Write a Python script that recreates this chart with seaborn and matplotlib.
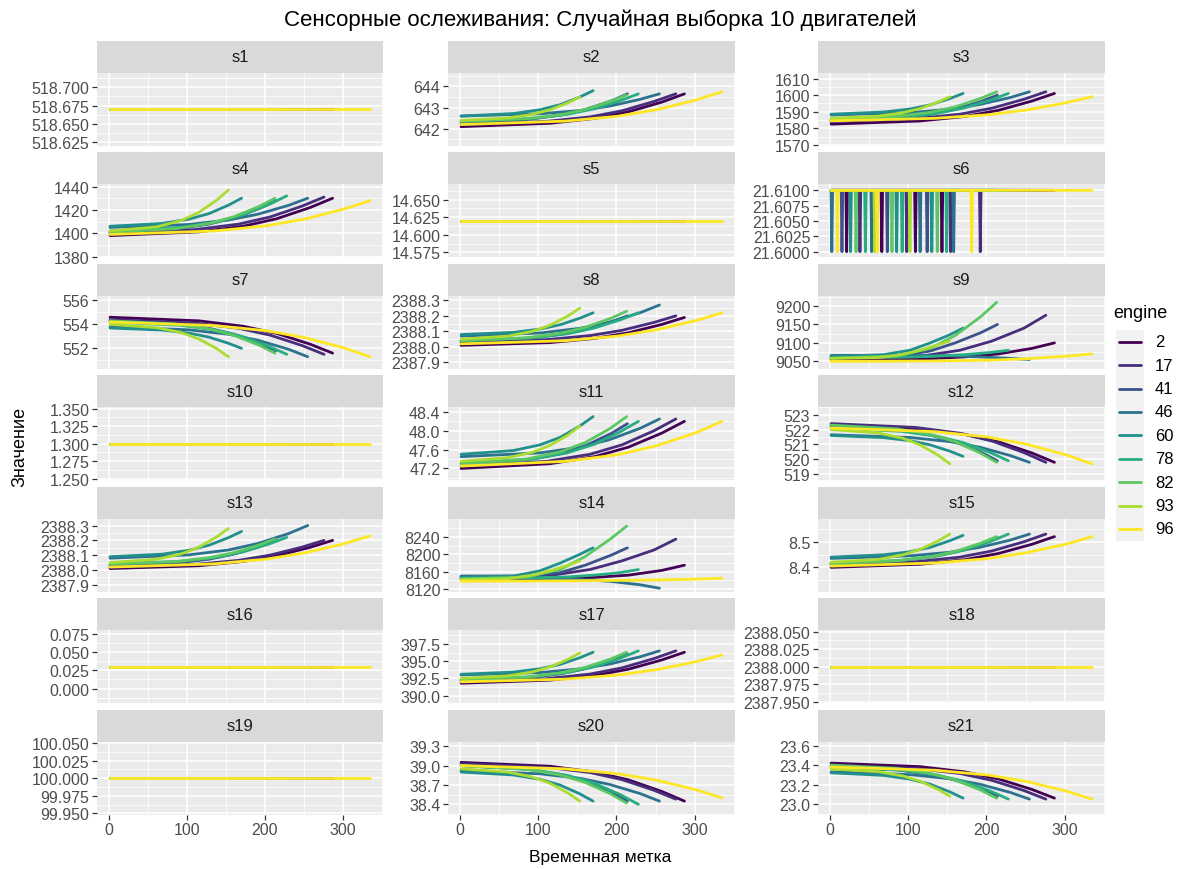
import matplotlib
matplotlib.use("Agg")
import matplotlib.pyplot as plt
import seaborn as sns
import pandas as pd
from matplotlib.patches import Rectangle
from matplotlib.lines import Line2D

# ---------------- data ----------------
engines = [2, 17, 41, 46, 60, 78, 82, 93, 96]
engine_colors = ["#440154", "#472D7B", "#3B528B", "#2C728E", "#21908C",
                 "#27AD81", "#5DC863", "#AADC32", "#FDE725"]

# time stamps (cycles) at which values were read for each engine; last = lifetime
cycles = {
    2: [1, 115, 172, 215, 258, 287],
    17: [1, 110, 166, 207, 248, 276],
    41: [1, 86, 128, 160, 193, 214],
    46: [1, 102, 153, 191, 230, 255],
    60: [1, 68, 102, 128, 153, 170],
    78: [1, 91, 137, 171, 205, 228],
    82: [1, 85, 128, 160, 192, 213],
    93: [1, 61, 92, 115, 138, 153],
    96: [1, 134, 201, 251, 302, 335],
}

# constant sensors
s1_level = 518.67
s5_level = 14.62
s10_level = 1.30
s16_level = 0.03
s18_level = 2388.00
s19_level = 100.00

# sensor s6: 21.61 with single-cycle drops to 21.60 at these cycles
s6_high = 21.61
s6_low = 21.60
s6_drops = {
    2: [21, 66, 109, 143],
    17: [38, 98, 154, 192],
    41: [15, 73, 124],
    46: [2, 53, 115, 158],
    60: [26, 85, 130],
    78: [45, 92, 149],
    82: [33, 79, 137],
    93: [57, 102],
    96: [9, 60, 181],
}

s2 = {
    2: [642.10, 642.26, 642.49, 642.80, 643.26, 643.65],
    17: [642.20, 642.35, 642.56, 642.85, 643.29, 643.65],
    41: [642.30, 642.44, 642.64, 642.91, 643.31, 643.65],
    46: [642.60, 642.71, 642.86, 643.07, 643.39, 643.65],
    60: [642.60, 642.72, 642.90, 643.14, 643.50, 643.80],
    78: [642.35, 642.48, 642.68, 642.94, 643.33, 643.65],
    82: [642.35, 642.48, 642.66, 642.91, 643.29, 643.60],
    93: [642.40, 642.51, 642.68, 642.90, 643.23, 643.50],
    96: [642.20, 642.36, 642.59, 642.90, 643.36, 643.75],
}
s3 = {
    2: [1582.5, 1584.4, 1587.1, 1590.8, 1596.4, 1601.0],
    17: [1584.0, 1585.8, 1588.5, 1592.1, 1597.5, 1602.0],
    41: [1584.5, 1586.1, 1588.4, 1591.5, 1596.1, 1600.0],
    46: [1588.0, 1589.4, 1591.5, 1594.3, 1598.5, 1602.0],
    60: [1588.5, 1589.8, 1591.6, 1594.1, 1597.9, 1601.0],
    78: [1585.0, 1586.6, 1589.0, 1592.2, 1597.0, 1601.0],
    82: [1585.5, 1587.2, 1589.6, 1592.9, 1597.9, 1602.0],
    93: [1586.0, 1587.3, 1589.3, 1591.9, 1595.8, 1599.0],
    96: [1584.5, 1586.0, 1588.1, 1591.0, 1595.4, 1599.0],
}
s4 = {
    2: [1398.0, 1401.2, 1406.0, 1412.4, 1422.0, 1430.0],
    17: [1400.0, 1403.1, 1407.8, 1414.0, 1423.3, 1431.0],
    41: [1401.0, 1403.7, 1407.8, 1413.2, 1421.3, 1428.0],
    46: [1405.0, 1407.5, 1411.3, 1416.3, 1423.8, 1430.0],
    60: [1406.0, 1408.4, 1412.0, 1416.8, 1424.0, 1430.0],
    78: [1402.0, 1405.0, 1409.5, 1415.5, 1424.5, 1432.0],
    82: [1401.0, 1403.9, 1408.3, 1414.1, 1422.8, 1430.0],
    93: [1402.0, 1405.5, 1410.8, 1417.8, 1428.3, 1437.0],
    96: [1399.0, 1401.9, 1406.3, 1412.1, 1420.8, 1428.0],
}
s7 = {
    2: [554.60, 554.30, 553.85, 553.25, 552.35, 551.60],
    17: [554.40, 554.11, 553.68, 553.10, 552.23, 551.50],
    41: [554.30, 554.05, 553.68, 553.18, 552.43, 551.80],
    46: [553.80, 553.55, 553.18, 552.68, 551.93, 551.30],
    60: [553.70, 553.53, 553.28, 552.94, 552.43, 552.00],
    78: [554.20, 553.93, 553.53, 552.99, 552.18, 551.50],
    82: [554.30, 554.03, 553.63, 553.09, 552.28, 551.60],
    93: [554.00, 553.73, 553.33, 552.79, 551.98, 551.30],
    96: [554.20, 553.91, 553.48, 552.90, 552.03, 551.30],
}
s8 = {
    2: [2388.010, 2388.028, 2388.055, 2388.091, 2388.145, 2388.190],
    17: [2388.030, 2388.047, 2388.073, 2388.107, 2388.158, 2388.200],
    41: [2388.040, 2388.056, 2388.080, 2388.112, 2388.160, 2388.200],
    46: [2388.070, 2388.090, 2388.120, 2388.160, 2388.220, 2388.270],
    60: [2388.080, 2388.094, 2388.115, 2388.143, 2388.185, 2388.220],
    78: [2388.040, 2388.058, 2388.085, 2388.121, 2388.175, 2388.220],
    82: [2388.040, 2388.059, 2388.088, 2388.126, 2388.183, 2388.230],
    93: [2388.050, 2388.070, 2388.100, 2388.140, 2388.200, 2388.250],
    96: [2388.020, 2388.040, 2388.070, 2388.110, 2388.170, 2388.220],
}
s9 = {
    2: [9055, 9056, 9062, 9070, 9085, 9100],
    17: [9060, 9062, 9080, 9105, 9140, 9175],
    41: [9062, 9064, 9078, 9100, 9128, 9150],
    46: [9066, 9066, 9065, 9062, 9058, 9055],
    60: [9063, 9068, 9080, 9100, 9122, 9140],
    78: [9060, 9061, 9064, 9068, 9074, 9080],
    82: [9058, 9065, 9085, 9120, 9170, 9210],
    93: [9058, 9060, 9068, 9080, 9095, 9105],
    96: [9050, 9051, 9053, 9057, 9064, 9070],
}
s11 = {
    2: [47.20, 47.30, 47.45, 47.65, 47.95, 48.20],
    17: [47.25, 47.35, 47.50, 47.70, 48.00, 48.25],
    41: [47.30, 47.39, 47.51, 47.68, 47.94, 48.15],
    46: [47.45, 47.53, 47.65, 47.81, 48.05, 48.25],
    60: [47.50, 47.58, 47.70, 47.86, 48.10, 48.30],
    78: [47.30, 47.39, 47.53, 47.71, 47.98, 48.20],
    82: [47.30, 47.40, 47.55, 47.75, 48.05, 48.30],
    93: [47.35, 47.43, 47.54, 47.69, 47.91, 48.10],
    96: [47.25, 47.35, 47.49, 47.68, 47.96, 48.20],
}
s12 = {
    2: [522.30, 522.05, 521.68, 521.18, 520.43, 519.80],
    17: [522.40, 522.14, 521.75, 521.23, 520.45, 519.80],
    41: [522.20, 521.97, 521.63, 521.17, 520.48, 519.90],
    46: [521.65, 521.47, 521.19, 520.82, 520.26, 519.80],
    60: [521.60, 521.46, 521.25, 520.97, 520.55, 520.20],
    78: [522.10, 521.88, 521.55, 521.11, 520.45, 519.90],
    82: [522.30, 522.05, 521.68, 521.18, 520.43, 519.80],
    93: [522.00, 521.77, 521.43, 520.97, 520.28, 519.70],
    96: [522.10, 521.86, 521.50, 521.02, 520.30, 519.70],
}
s13 = {
    2: [2388.010, 2388.029, 2388.058, 2388.096, 2388.153, 2388.200],
    17: [2388.020, 2388.038, 2388.065, 2388.101, 2388.155, 2388.200],
    41: [2388.030, 2388.047, 2388.073, 2388.107, 2388.158, 2388.200],
    46: [2388.080, 2388.102, 2388.135, 2388.179, 2388.245, 2388.300],
    60: [2388.090, 2388.107, 2388.133, 2388.167, 2388.218, 2388.260],
    78: [2388.040, 2388.058, 2388.085, 2388.121, 2388.175, 2388.220],
    82: [2388.040, 2388.057, 2388.083, 2388.117, 2388.168, 2388.210],
    93: [2388.050, 2388.073, 2388.108, 2388.154, 2388.223, 2388.280],
    96: [2388.020, 2388.041, 2388.073, 2388.115, 2388.178, 2388.230],
}
s14 = {
    2: [8143, 8144, 8147, 8152, 8163, 8175],
    17: [8148, 8150, 8165, 8185, 8210, 8235],
    41: [8150, 8150, 8158, 8175, 8198, 8215],
    46: [8146, 8145, 8142, 8138, 8130, 8122],
    60: [8148, 8150, 8162, 8180, 8200, 8215],
    78: [8145, 8146, 8148, 8152, 8158, 8165],
    82: [8143, 8148, 8165, 8195, 8235, 8265],
    93: [8142, 8144, 8152, 8162, 8175, 8185],
    96: [8138, 8139, 8140, 8141, 8143, 8145],
}
s15 = {
    2: [8.400, 8.412, 8.430, 8.454, 8.490, 8.520],
    17: [8.410, 8.422, 8.440, 8.464, 8.500, 8.530],
    41: [8.415, 8.425, 8.440, 8.460, 8.490, 8.515],
    46: [8.435, 8.445, 8.459, 8.478, 8.506, 8.530],
    60: [8.440, 8.449, 8.461, 8.478, 8.504, 8.525],
    78: [8.415, 8.427, 8.444, 8.467, 8.501, 8.530],
    82: [8.415, 8.426, 8.441, 8.462, 8.494, 8.520],
    93: [8.420, 8.431, 8.448, 8.470, 8.503, 8.530],
    96: [8.405, 8.417, 8.434, 8.457, 8.491, 8.520],
}
s17 = {
    2: [391.80, 392.25, 392.93, 393.83, 395.18, 396.30],
    17: [392.00, 392.45, 393.13, 394.03, 395.38, 396.50],
    41: [392.20, 392.58, 393.15, 393.91, 395.05, 396.00],
    46: [393.00, 393.35, 393.88, 394.58, 395.63, 396.50],
    60: [393.10, 393.42, 393.90, 394.54, 395.50, 396.30],
    78: [392.30, 392.72, 393.35, 394.19, 395.45, 396.50],
    82: [392.30, 392.70, 393.30, 394.10, 395.30, 396.30],
    93: [392.50, 392.87, 393.43, 394.17, 395.28, 396.20],
    96: [392.00, 392.39, 392.98, 393.76, 394.93, 395.90],
}
s20 = {
    2: [39.050, 38.990, 38.900, 38.780, 38.600, 38.450],
    17: [39.030, 38.975, 38.893, 38.783, 38.618, 38.480],
    41: [39.000, 38.945, 38.863, 38.753, 38.588, 38.450],
    46: [38.920, 38.873, 38.803, 38.709, 38.568, 38.450],
    60: [38.900, 38.855, 38.788, 38.698, 38.563, 38.450],
    78: [39.000, 38.940, 38.850, 38.730, 38.550, 38.400],
    82: [39.000, 38.942, 38.855, 38.739, 38.565, 38.420],
    93: [38.950, 38.900, 38.825, 38.725, 38.575, 38.450],
    96: [39.000, 38.950, 38.875, 38.775, 38.625, 38.500],
}
s21 = {
    2: [23.420, 23.384, 23.330, 23.258, 23.150, 23.060],
    17: [23.400, 23.365, 23.313, 23.243, 23.138, 23.050],
    41: [23.380, 23.350, 23.305, 23.245, 23.155, 23.080],
    46: [23.330, 23.302, 23.260, 23.204, 23.120, 23.050],
    60: [23.320, 23.294, 23.255, 23.203, 23.125, 23.060],
    78: [23.380, 23.347, 23.298, 23.232, 23.133, 23.050],
    82: [23.400, 23.366, 23.315, 23.247, 23.145, 23.060],
    93: [23.360, 23.332, 23.290, 23.234, 23.150, 23.080],
    96: [23.380, 23.347, 23.298, 23.232, 23.133, 23.050],
}

# y tick labels per panel (as printed in the chart)
yticks = {
    "s1": ["518.625", "518.650", "518.675", "518.700"],
    "s2": ["642", "643", "644"],
    "s3": ["1570", "1580", "1590", "1600", "1610"],
    "s4": ["1380", "1400", "1420", "1440"],
    "s5": ["14.575", "14.600", "14.625", "14.650"],
    "s6": ["21.6000", "21.6025", "21.6050", "21.6075", "21.6100"],
    "s7": ["552", "554", "556"],
    "s8": ["2387.9", "2388.0", "2388.1", "2388.2", "2388.3"],
    "s9": ["9050", "9100", "9150", "9200"],
    "s10": ["1.250", "1.275", "1.300", "1.325", "1.350"],
    "s11": ["47.2", "47.6", "48.0", "48.4"],
    "s12": ["519", "520", "521", "522", "523"],
    "s13": ["2387.9", "2388.0", "2388.1", "2388.2", "2388.3"],
    "s14": ["8120", "8160", "8200", "8240"],
    "s15": ["8.4", "8.5"],
    "s16": ["0.000", "0.025", "0.050", "0.075"],
    "s17": ["390.0", "392.5", "395.0", "397.5"],
    "s18": ["2387.950", "2387.975", "2388.000", "2388.025", "2388.050"],
    "s19": ["99.950", "99.975", "100.000", "100.025", "100.050"],
    "s20": ["38.4", "38.7", "39.0", "39.3"],
    "s21": ["23.0", "23.2", "23.4", "23.6"],
}
# visible y range of each panel
ylims = {
    "s1": (518.62, 518.72), "s2": (641.2, 644.65), "s3": (1569.5, 1613.5),
    "s4": (1379.5, 1442.0), "s5": (14.568, 14.672), "s6": (21.5991, 21.6110),
    "s7": (550.3, 556.4), "s8": (2387.86, 2388.33), "s9": (9030, 9228),
    "s10": (1.248, 1.352), "s11": (46.95, 48.5), "s12": (518.6, 523.5),
    "s13": (2387.854, 2388.346), "s14": (8114, 8282), "s15": (8.305, 8.59),
    "s16": (-0.02, 0.08), "s17": (388.9, 399.5), "s18": (2387.948, 2388.052),
    "s19": (99.948, 100.052), "s20": (38.24, 39.37), "s21": (22.89, 23.64),
}
xticks = [0, 100, 200, 300]

title_text = "Сенсорные ослеживания: Случайная выборка 10 двигателей"
xlabel_text = "Временная метка"
ylabel_text = "Значение"
legend_title = "engine"

# ---------------- build long table ----------------
varying = {"s2": s2, "s3": s3, "s4": s4, "s7": s7, "s8": s8, "s9": s9,
           "s11": s11, "s12": s12, "s13": s13, "s14": s14, "s15": s15,
           "s17": s17, "s20": s20, "s21": s21}
constant = {"s1": s1_level, "s5": s5_level, "s10": s10_level,
            "s16": s16_level, "s18": s18_level, "s19": s19_level}

rows = []
for e in engines:
    life = cycles[e][-1]
    for s, tab in varying.items():
        for c, v in zip(cycles[e], tab[e]):
            rows.append((str(e), s, c, v))
    for s, lev in constant.items():
        rows.append((str(e), s, 1, lev))
        rows.append((str(e), s, life, lev))
    pts = [(1, s6_high)]
    for d in s6_drops[e]:
        pts += [(d - 1, s6_high), (d, s6_low), (d + 1, s6_high)]
    pts.append((life, s6_high))
    for c, v in pts:
        rows.append((str(e), "s6", c, v))
df = pd.DataFrame(rows, columns=["engine", "sensor", "cycle", "value"])

# ---------------- drawing ----------------
sns.set_theme(style="darkgrid")
plt.rcParams["font.family"] = ["Liberation Sans", "DejaVu Sans"]

W, H = 1187, 870
fig = plt.figure(figsize=(W / 100, H / 100), dpi=100)
fig.patch.set_facecolor("white")

col_left = [97, 448, 818]
col_width = [286, 287, 287]
strip_h = 32
panel_h = 73
row_pitch = 111.5
row_top0 = 41.7

pal = {str(e): c for e, c in zip(engines, engine_colors)}
hue_order = [str(e) for e in engines]
sensors = ["s%d" % i for i in range(1, 22)]


def fig_rect(x, y, w, h):
    return [x / W, 1 - (y + h) / H, w / W, h / H]


for i, s in enumerate(sensors):
    r, c = divmod(i, 3)
    top = row_top0 + r * row_pitch
    x0, w = col_left[c], col_width[c]
    # strip
    sax = fig.add_axes(fig_rect(x0, top, w, strip_h))
    sax.set_facecolor("#D9D9D9")
    sax.grid(False)
    sax.set_xticks([]); sax.set_yticks([])
    for sp in sax.spines.values():
        sp.set_visible(False)
    sax.text(0.5, 0.5, s, ha="center", va="center", color="#1A1A1A",
             fontsize=12, transform=sax.transAxes)
    # panel
    ax = fig.add_axes(fig_rect(x0, top + strip_h, w, panel_h))
    sub = df[df["sensor"] == s]
    sns.lineplot(data=sub, x="cycle", y="value", hue="engine",
                 hue_order=hue_order, palette=pal, legend=False,
                 estimator=None, linewidth=2.0, ax=ax)
    ax.set_xlabel(""); ax.set_ylabel("")
    ax.set_facecolor("#EBEBEB")
    for sp in ax.spines.values():
        sp.set_visible(False)
    yt = [float(t) for t in yticks[s]]
    step = yt[1] - yt[0]
    ax.set_yticks(yt)
    ax.set_yticklabels(yticks[s])
    ax.set_yticks([yt[0] - step / 2] + [t + step / 2 for t in yt], minor=True)
    ax.set_ylim(*ylims[s])
    ax.set_xlim(-15.7, 351.7)
    ax.set_xticks(xticks)
    ax.set_xticks([50, 150, 250, 350], minor=True)
    ax.grid(which="major", color="white", linewidth=1.1)
    ax.grid(which="minor", color="white", linewidth=0.55)
    ax.set_axisbelow(True)
    ax.tick_params(axis="y", which="major", left=True, length=3.5, width=0.9,
                   color="#333333", labelcolor="#4D4D4D", labelsize=11.5, pad=2)
    ax.tick_params(axis="both", which="minor", length=0)
    if r == 6:
        ax.tick_params(axis="x", which="major", bottom=True, length=3.5, width=0.9,
                       color="#333333", labelcolor="#4D4D4D", labelsize=11.5, pad=2)
    else:
        ax.tick_params(axis="x", which="major", length=0, labelbottom=False)

# titles
fig.text(600 / W, 1 - 20 / H, title_text, ha="center", va="center",
         fontsize=16, color="black")
fig.text(600 / W, 1 - 858 / H, xlabel_text, ha="center", va="center",
         fontsize=12.5, color="black")
fig.text(20 / W, 1 - 447 / H, ylabel_text, ha="center", va="center",
         rotation=90, fontsize=13, color="black")

# legend
fig.text(1113 / W, 1 - 313 / H, legend_title, ha="left", va="center",
         fontsize=13, color="black")
key_top = 331
key_h = 23.4
for j, e in enumerate(engines):
    yc = key_top + key_h * j + key_h / 2
    fig.add_artist(Rectangle((1116 / W, 1 - (key_top + key_h * (j + 1)) / H),
                             28 / W, key_h / H, transform=fig.transFigure,
                             facecolor="#F2F2F2", edgecolor="none"))
    fig.add_artist(Line2D([1119 / W, 1141 / W], [1 - yc / H, 1 - yc / H],
                          transform=fig.transFigure, color=engine_colors[j],
                          linewidth=2.0))
    fig.text(1155 / W, 1 - yc / H, str(e), ha="left", va="center",
             fontsize=12, color="black")

fig.savefig("out.png", dpi=100, facecolor="white")
